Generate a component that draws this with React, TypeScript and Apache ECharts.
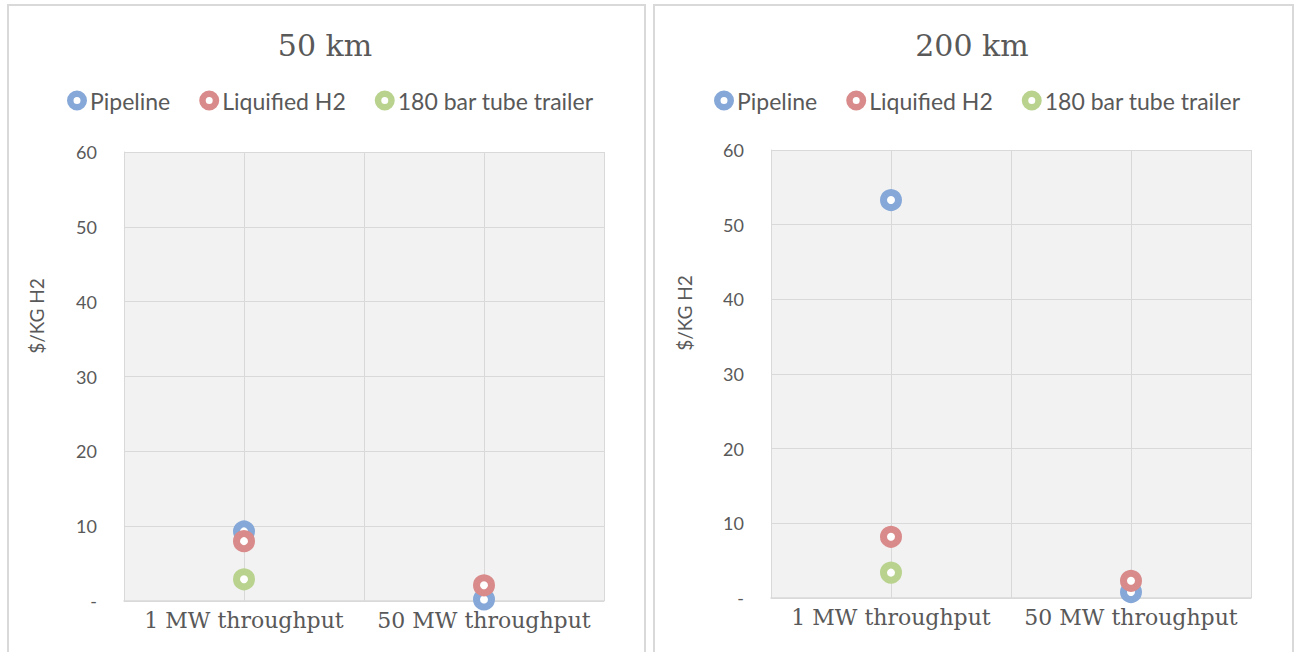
import React, { useEffect, useRef } from "react";
import * as echarts from "echarts";

const categories = ["1 MW throughput", "50 MW throughput"];
const seriesNames = ["Pipeline", "Liquified H2", "180 bar tube trailer"];
const seriesColors = ["#86A8D8", "#D98A8A", "#B9D38F"];
const panelTitles = ["50 km", "200 km"];

// values [1 MW, 50 MW] per series
const km50Pipeline = [9.3, 0.2];
const km50Liquified = [8.0, 2.1];
const km50Trailer = [2.9, 0];
const km200Pipeline = [53.3, 0.8];
const km200Liquified = [8.2, 2.3];
const km200Trailer = [3.4, 0];

const panelValues = [
  [km50Pipeline, km50Liquified, km50Trailer],
  [km200Pipeline, km200Liquified, km200Trailer],
];
// which categories have a visible point for each series (trailer shows no 50 MW point)
const panelShown = [
  [[true, true], [true, true], [true, false]],
  [[true, true], [true, true], [true, false]],
];

const FONT_SANS = "Lato";
const FONT_SERIF = "DejaVu Serif";
const TEXT = "#595959";
const GRID_LINE = "#d9d9d9";
const RING_ICON =
  "path://M10,0 A10,10 0 1,1 10,20 A10,10 0 1,1 10,0 Z M10,6.5 A3.5,3.5 0 1,0 10,13.5 A3.5,3.5 0 1,0 10,6.5 Z";

const panels = [
  { left: 124, top: 152, width: 480, height: 449, titleX: 325, legendX: 67, nameX: 36, nameY: 316, boxX: 8, boxW: 637 },
  { left: 771, top: 150, width: 480, height: 448, titleX: 972, legendX: 714, nameX: 684, nameY: 313, boxX: 654, boxW: 639 },
];

export default function App() {
  const ref = useRef<HTMLDivElement>(null);

  useEffect(() => {
    if (!ref.current) return;
    const chart = echarts.init(ref.current, null, { renderer: "svg" });

    const grids: any[] = [];
    const xAxes: any[] = [];
    const yAxes: any[] = [];
    const series: any[] = [];
    const legends: any[] = [];
    const graphics: any[] = [];

    panels.forEach((p, pi) => {
      graphics.push({
        type: "rect",
        shape: { x: p.boxX, y: 5, width: p.boxW, height: 660 },
        style: { fill: "#ffffff", stroke: GRID_LINE, lineWidth: 2 },
        z: -10,
      });
      graphics.push({
        type: "text",
        x: p.titleX,
        y: 45,
        style: {
          text: panelTitles[pi],
          font: `30px '${FONT_SERIF}'`,
          fill: TEXT,
          textAlign: "center",
          textVerticalAlign: "middle",
        },
      });
      graphics.push({
        type: "text",
        x: p.nameX,
        y: p.nameY,
        rotation: Math.PI / 2,
        style: {
          text: "$/KG H2",
          font: `19px '${FONT_SANS}'`,
          fill: TEXT,
          textAlign: "center",
          textVerticalAlign: "middle",
        },
      });

      grids.push({
        left: p.left,
        top: p.top,
        width: p.width,
        height: p.height,
        show: true,
        backgroundColor: "#f2f2f2",
        borderWidth: 0,
      });
      xAxes.push({
        type: "value",
        gridIndex: pi,
        min: 0,
        max: categories.length,
        interval: 0.5,
        axisLine: { show: true, lineStyle: { color: GRID_LINE, width: 1.5 } },
        axisTick: { show: false },
        splitLine: { show: true, lineStyle: { color: GRID_LINE, width: 1 } },
        axisLabel: {
          show: true,
          margin: 8,
          color: TEXT,
          fontFamily: FONT_SERIF,
          fontSize: 22,
          formatter: (v: number) => {
            const idx = v - 0.5;
            if (Number.isInteger(idx) && idx >= 0 && idx < categories.length) return categories[idx];
            return "";
          },
        },
      });
      yAxes.push({
        type: "value",
        gridIndex: pi,
        min: 0,
        max: 60,
        interval: 10,
        axisLine: { show: true, lineStyle: { color: GRID_LINE, width: 1 } },
        axisTick: { show: false },
        splitLine: { show: true, lineStyle: { color: GRID_LINE, width: 1 } },
        axisLabel: {
          margin: 27,
          color: TEXT,
          fontFamily: FONT_SANS,
          fontSize: 18,
          formatter: (v: number) => (v === 0 ? "-" : String(v)),
        },
      });

      seriesNames.forEach((name, si) => {
        const vals = panelValues[pi][si];
        const data = vals
          .map((v, ci) => (panelShown[pi][si][ci] ? [ci + 0.5, v] : null))
          .filter((d) => d !== null);
        series.push({
          type: "scatter",
          name,
          xAxisIndex: pi,
          yAxisIndex: pi,
          data,
          symbol: "circle",
          symbolSize: 15,
          itemStyle: {
            color: "#ffffff",
            borderColor: seriesColors[si],
            borderWidth: 7,
            opacity: 1,
          },
          emphasis: { disabled: true },
          z: 2 + si,
        });
      });

      legends.push({
        left: p.legendX,
        top: 89,
        padding: 0,
        itemGap: 29,
        itemWidth: 20,
        itemHeight: 20,
        data: seriesNames.map((n, si) => ({
          name: n,
          icon: RING_ICON,
          itemStyle: { color: seriesColors[si], borderWidth: 0 },
        })),
        textStyle: { color: TEXT, fontFamily: FONT_SANS, fontSize: 23, padding: [0, 0, 0, -2] },
        selectedMode: false,
      });
    });

    chart.setOption({
      animation: false,
      backgroundColor: "#ffffff",
      grid: grids,
      xAxis: xAxes,
      yAxis: yAxes,
      series,
      legend: legends,
      graphic: graphics,
    });

    return () => chart.dispose();
  }, []);

  return (
    <div
      ref={ref}
      style={{ position: "absolute", left: 0, top: 0, width: 1295, height: 652, background: "#fff" }}
    />
  );
}
